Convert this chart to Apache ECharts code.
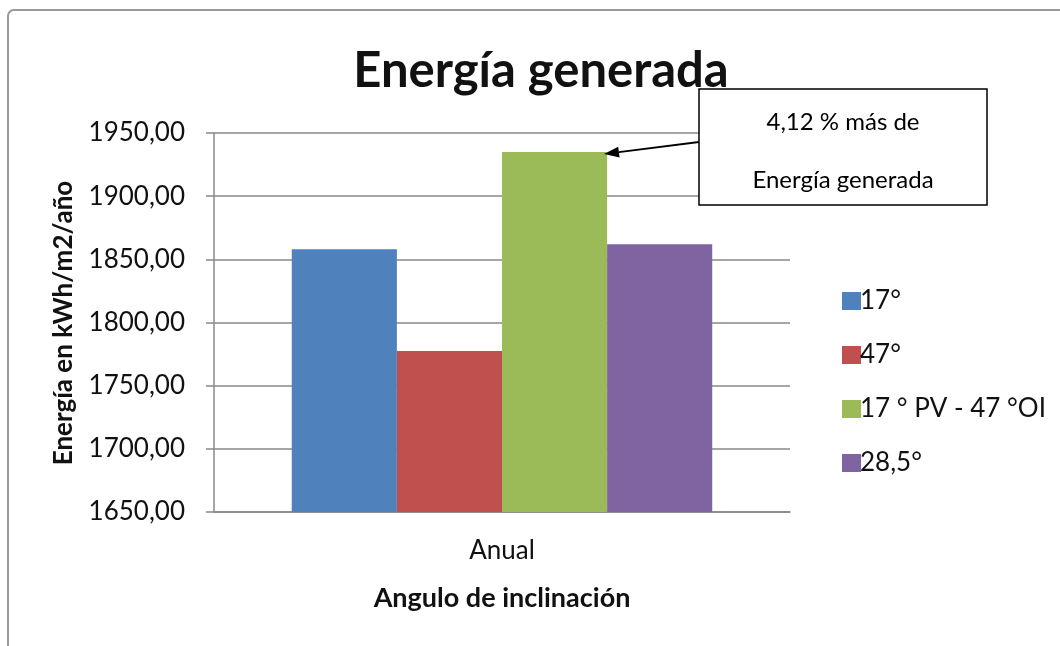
<!DOCTYPE html>
<html>
<head>
<meta charset="utf-8">
<script src="https://cdn.jsdelivr.net/npm/echarts@6/dist/echarts.min.js"></script>
<style>
  html, body { margin: 0; padding: 0; background: #fff; }
  #main { width: 1060px; height: 646px; }
</style>
</head>
<body>
<div id="main"></div>
<script type="text/javascript">
// datos
var categories = ['Anual'];
var seriesNames = ['17°', '47°', '17 ° PV - 47 °OI', '28,5°'];
var seriesValues = [1858, 1777.5, 1935, 1862];
var seriesColors = ['#4F81BD', '#C0504D', '#9BBB59', '#8064A2'];
var yTicks = [1650, 1700, 1750, 1800, 1850, 1900, 1950];
var yTitle = 'Energía en kWh/m2/año';
var noteLines = ['4,12 % más de', 'Energía generada'];

var FONT = 'Lato';
var myChart = echarts.init(document.getElementById('main'));

var series = [];
for (var i = 0; i < seriesNames.length; i++) {
    series.push({
        name: seriesNames[i],
        type: 'bar',
        data: [seriesValues[i]],
        itemStyle: { color: seriesColors[i] },
        barGap: '0%',
        barCategoryGap: '27%'
    });
}

// flecha de la nota (de la caja hacia la barra verde)
var from = [699, 142], tip = [604, 154];
var dx = tip[0] - from[0], dy = tip[1] - from[1];
var len = Math.sqrt(dx * dx + dy * dy);
var ux = dx / len, uy = dy / len;
var bx = tip[0] - ux * 15, by = tip[1] - uy * 15;
var head = [tip, [bx - uy * 5.5, by + ux * 5.5], [bx + uy * 5.5, by - ux * 5.5]];

var option = {
    animation: false,
    backgroundColor: '#fff',
    textStyle: { fontFamily: FONT },
    title: {
        text: 'Energía generada',
        left: 536,
        textAlign: 'center',
        top: 42,
        textStyle: { fontFamily: FONT, fontSize: 49, fontWeight: 'bold', color: '#111' }
    },
    legend: {
        orient: 'vertical',
        left: 837,
        top: 283,
        icon: 'rect',
        itemWidth: 19,
        itemHeight: 18,
        itemGap: 28,
        textStyle: { fontFamily: FONT, fontSize: 26, color: '#111', lineHeight: 26, padding: [0, 0, 0, -6] },
        data: seriesNames
    },
    grid: { left: 214, right: 270, top: 133, bottom: 134 },
    xAxis: {
        type: 'category',
        data: categories,
        name: 'Angulo de inclinación',
        nameLocation: 'middle',
        nameGap: 73,
        nameTextStyle: { fontFamily: FONT, fontSize: 27, fontWeight: 'bold', color: '#111' },
        axisLine: { lineStyle: { color: '#888', width: 1.5 } },
        axisTick: { show: false },
        axisLabel: { fontFamily: FONT, fontSize: 26, color: '#111', margin: 26 }
    },
    yAxis: {
        type: 'value',
        min: yTicks[0],
        max: yTicks[yTicks.length - 1],
        interval: yTicks[1] - yTicks[0],
        axisLine: { show: true, lineStyle: { color: '#888', width: 1.5 } },
        axisTick: { show: true, length: 8, lineStyle: { color: '#888', width: 1.5 } },
        axisLabel: {
            fontFamily: FONT, fontSize: 26, color: '#111', margin: 29,
            formatter: function (v) { return v.toFixed(2).replace('.', ','); }
        },
        splitLine: { lineStyle: { color: '#888', width: 1.5 } }
    },
    series: series,
    graphic: [
        {
            type: 'rect',
            shape: { x: 8, y: 10, width: 1080, height: 680, r: 6 },
            style: { fill: 'none', stroke: '#999', lineWidth: 2 },
            silent: true
        },
        {
            // titulo del eje vertical
            type: 'text',
            x: 64,
            y: 323,
            rotation: Math.PI / 2,
            style: { text: yTitle, x: 0, y: 0, align: 'center', verticalAlign: 'middle',
                     font: 'bold 26px ' + FONT, fill: '#111' }
        },
        {
            type: 'rect',
            z: 100,
            shape: { x: 699, y: 89, width: 288, height: 116 },
            style: { fill: '#fff', stroke: '#000', lineWidth: 1.5 }
        },
        {
            type: 'text',
            z: 101,
            style: { text: noteLines[0], x: 843, y: 122, align: 'center', verticalAlign: 'middle',
                     font: '24px ' + FONT, fill: '#000' }
        },
        {
            type: 'text',
            z: 101,
            style: { text: noteLines[1], x: 843, y: 180, align: 'center', verticalAlign: 'middle',
                     font: '24px ' + FONT, fill: '#000' }
        },
        {
            type: 'line',
            z: 101,
            shape: { x1: from[0], y1: from[1], x2: bx, y2: by },
            style: { stroke: '#000', lineWidth: 2 }
        },
        {
            type: 'polygon',
            z: 101,
            shape: { points: head },
            style: { fill: '#000' }
        }
    ]
};
myChart.setOption(option);
</script>
</body>
</html>
